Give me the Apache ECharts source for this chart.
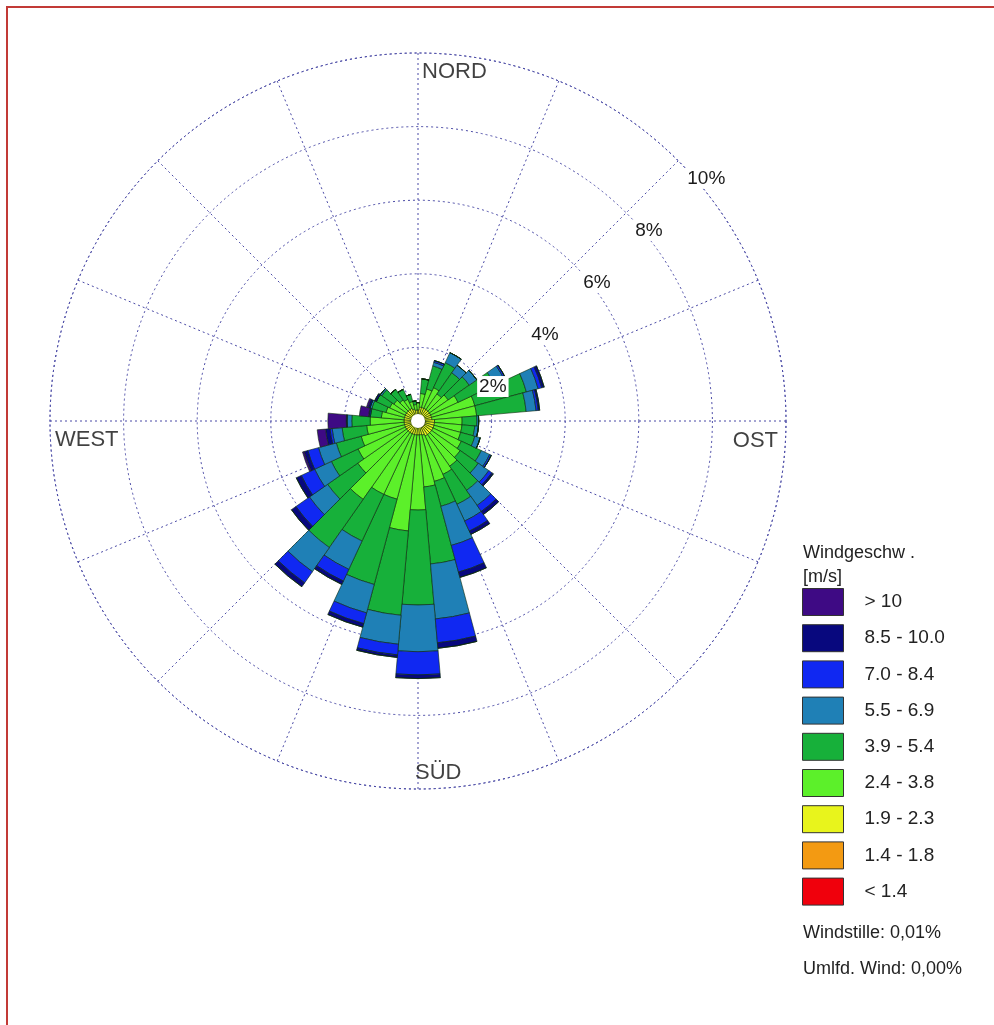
<!DOCTYPE html>
<html>
<head>
<meta charset="utf-8">
<script src="https://cdn.jsdelivr.net/npm/echarts@6/dist/echarts.min.js"></script>
<style>
html,body{margin:0;padding:0;background:#fff;}
#chart{width:994px;height:1025px;}
</style>
</head>
<body>
<div id="chart"></div>
<script>
// ---- data ----
const directions = ['0','10','20','30','40','50','60','70','80','90','100','110','120','130','140','150','160','170',
  '180','190','200','210','220','230','240','250','260','270','280','290','300','310','320','330','340','350'];
const speedClasses = ['< 1.4','1.4 - 1.8','1.9 - 2.3','2.4 - 3.8','3.9 - 5.4','5.5 - 6.9','7.0 - 8.4','8.5 - 10.0','> 10'];
// frequency (%) per direction sector for each speed class
const s_lt14   = [.06,.08,.08,.08,.08,.08,.08,.08,.08,.08,.08,.08,.08,.08,.08,.08,.08,.08,.08,.08,.08,.08,.08,.08,.08,.08,.08,.08,.08,.08,.08,.08,.08,.08,.06,.06];
const s_14_18  = [.08,.10,.10,.10,.10,.10,.10,.10,.10,.12,.12,.12,.12,.12,.12,.12,.10,.10,.10,.10,.10,.10,.10,.10,.10,.10,.10,.10,.10,.10,.10,.10,.10,.10,.09,.08];
const s_19_23  = [.16,.20,.20,.20,.20,.20,.20,.20,.20,.25,.25,.25,.25,.25,.25,.25,.22,.20,.20,.20,.20,.20,.20,.20,.20,.20,.20,.20,.20,.20,.20,.20,.20,.20,.19,.16];
const s_24_38  = [.20,.37,.52,.62,.52,.62,.82,1.22,1.22,.75,.75,.75,.85,.95,1.05,1.15,1.30,1.42,2.04,2.62,1.82,1.82,2.22,1.62,1.42,1.22,1.02,.92,.62,.52,.47,.42,.32,.27,.21,.15];
const s_39_54  = [0,.40,.65,.75,.70,.70,1.10,1.45,1.35,.40,.35,.40,.60,.60,.80,.90,.70,2.10,2.58,2.30,2.40,1.40,1.60,1.00,.80,.70,.67,.50,.30,.40,.40,.40,.35,.30,.20,.10];
const s_55_69  = [0,0,.10,.30,.25,.25,.30,.33,.27,.05,.10,.15,.25,.35,.50,.50,1.10,1.50,1.27,.79,.80,.85,.80,.60,.50,.50,.27,.13,0,.05,0,.05,0,0,0,0];
const s_70_84  = [0,0,.05,0,0,0,.05,.10,.06,0,0,0,.05,.10,.20,.30,.75,.65,.63,.29,.30,.35,.37,.45,.40,.30,.06,0,.03,0,0,0,0,0,0,0];
const s_85_100 = [0,0,0,0,0,0,0,.07,.04,0,0,0,0,.05,.10,.10,.15,.15,.10,.07,.10,.10,.13,.15,.15,.10,.12,.02,.02,.05,.05,0,0,0,0,0];
const s_gt10   = [0,0,0,0,0,0,0,0,0,0,0,0,0,0,0,0,0,0,0,0,0,0,0,0,0,.05,.23,.50,.25,.05,0,0,0,0,0,0];
const radiusTicks = [0, 2, 4, 6, 8, 10];
const cardinals = [['NORD', 0], ['OST', 90], ['SÜD', 180], ['WEST', 270]];
const notes = ['Windstille: 0,01%', 'Umlfd. Wind: 0,00%'];
const legendTitle = ['Windgeschw .', '[m/s]'];

// ---- styles ----
const classColors = ['#f0000c','#f39a12','#e8f41c','#5cf02a','#17b03a','#1f80b6','#1028f2','#08087e','#3e0a84'];
const seriesValues = [s_lt14, s_14_18, s_19_23, s_24_38, s_39_54, s_55_69, s_70_84, s_85_100, s_gt10];
const CX = 418, CY = 421, R = 368;
const FONT = '"Liberation Sans", Arial, sans-serif';
const dotted = {color: '#4a4aa6', type: [2, 3], width: 1};
const cardStyle = {
  'NORD': {position: 'right', distance: 4, offset: [0, 2], r: 9.55},
  'OST':  {position: 'left', distance: 8, offset: [0, 20], r: 10},
  'SÜD':  {position: 'right', distance: -3, offset: [0, 0], r: 9.57},
  'WEST': {position: 'right', distance: 5, offset: [0, 19], r: 10}
};

const series = seriesValues.map((vals, i) => ({
  name: speedClasses[i],
  type: 'bar',
  coordinateSystem: 'polar',
  polarIndex: 0,
  stack: 'wind',
  barCategoryGap: '0%',
  data: vals,
  itemStyle: {color: classColors[i], borderColor: 'rgba(10,40,10,0.75)', borderWidth: 0.8},
  emphasis: {disabled: true},
  z: 3
}));

series.push({
  type: 'scatter',
  coordinateSystem: 'polar',
  polarIndex: 1,
  symbolSize: 0,
  silent: true,
  data: cardinals.map(c => {
    const st = cardStyle[c[0]];
    return {
      value: [st.r, c[1]],
      name: c[0],
      label: {show: true, formatter: c[0], position: st.position, distance: st.distance, offset: st.offset,
        fontSize: 22, fontFamily: FONT, color: '#111'}
    };
  }),
  z: 5
});

const option = {
  backgroundColor: '#ffffff',
  animation: false,
  polar: [
    {center: [CX, CY], radius: R},
    {center: [CX, CY], radius: R},
    {center: [CX, CY], radius: R}
  ],
  angleAxis: [
    {polarIndex: 0, type: 'category', data: directions, startAngle: 95, clockwise: true,
      axisLine: {show: false}, axisTick: {show: false}, axisLabel: {show: false}, splitLine: {show: false}},
    {polarIndex: 1, type: 'value', min: 0, max: 360, interval: 22.5, startAngle: 90, clockwise: true,
      axisLine: {show: true, lineStyle: dotted}, axisTick: {show: false}, axisLabel: {show: false},
      splitLine: {show: true, lineStyle: dotted}},
    {polarIndex: 2, type: 'value', min: 0, max: 360, startAngle: 45, clockwise: true,
      axisLine: {show: false}, axisTick: {show: false}, axisLabel: {show: false}, splitLine: {show: false}}
  ],
  radiusAxis: [
    {polarIndex: 0, type: 'value', min: 0, max: 10, axisLine: {show: false}, axisTick: {show: false},
      axisLabel: {show: false}, splitLine: {show: false}},
    {polarIndex: 1, type: 'value', min: radiusTicks[0], max: radiusTicks[radiusTicks.length - 1], interval: 2,
      axisLine: {show: false}, axisTick: {show: false}, axisLabel: {show: false},
      splitLine: {show: true, lineStyle: dotted}},
    {polarIndex: 2, type: 'value', min: radiusTicks[0], max: radiusTicks[radiusTicks.length - 1], interval: 2, z: 10,
      axisLine: {show: false}, axisTick: {show: false}, splitLine: {show: false},
      axisLabel: {show: true, showMinLabel: false, formatter: '{value}%', fontSize: 19, fontFamily: FONT,
        color: '#1a1a1a', backgroundColor: '#ffffff', padding: [1, 2], margin: -10, align: 'left', verticalAlign: 'top'}}
  ],
  legend: {
    orient: 'vertical', left: 802, top: 588, padding: 0, itemWidth: 41, itemHeight: 27, itemGap: 8.2,
    selectedMode: false, icon: 'rect',
    data: speedClasses.slice().reverse(),
    itemStyle: {borderColor: '#333', borderWidth: 1},
    textStyle: {fontSize: 19, fontFamily: FONT, color: '#222', padding: [0, 0, 0, 16]}
  },
  graphic: [
    {type: 'circle', shape: {cx: CX, cy: CY, r: 7}, style: {fill: '#fff'}, z: 100},
    {type: 'rect', shape: {x: 7, y: 7, width: 1000, height: 1040}, style: {fill: 'none', stroke: '#c23a36', lineWidth: 2}, z: 100},
    {type: 'text', left: 803, top: 544, style: {text: legendTitle[0], font: '18px ' + FONT, fill: '#222'}},
    {type: 'text', left: 803, top: 568, style: {text: legendTitle[1], font: '18px ' + FONT, fill: '#222'}},
    {type: 'text', left: 803, top: 924, style: {text: notes[0], font: '18px ' + FONT, fill: '#222'}},
    {type: 'text', left: 803, top: 960, style: {text: notes[1], font: '18px ' + FONT, fill: '#222'}}
  ],
  series: series
};

const chart = echarts.init(document.getElementById('chart'));
chart.setOption(option);
</script>
</body>
</html>
